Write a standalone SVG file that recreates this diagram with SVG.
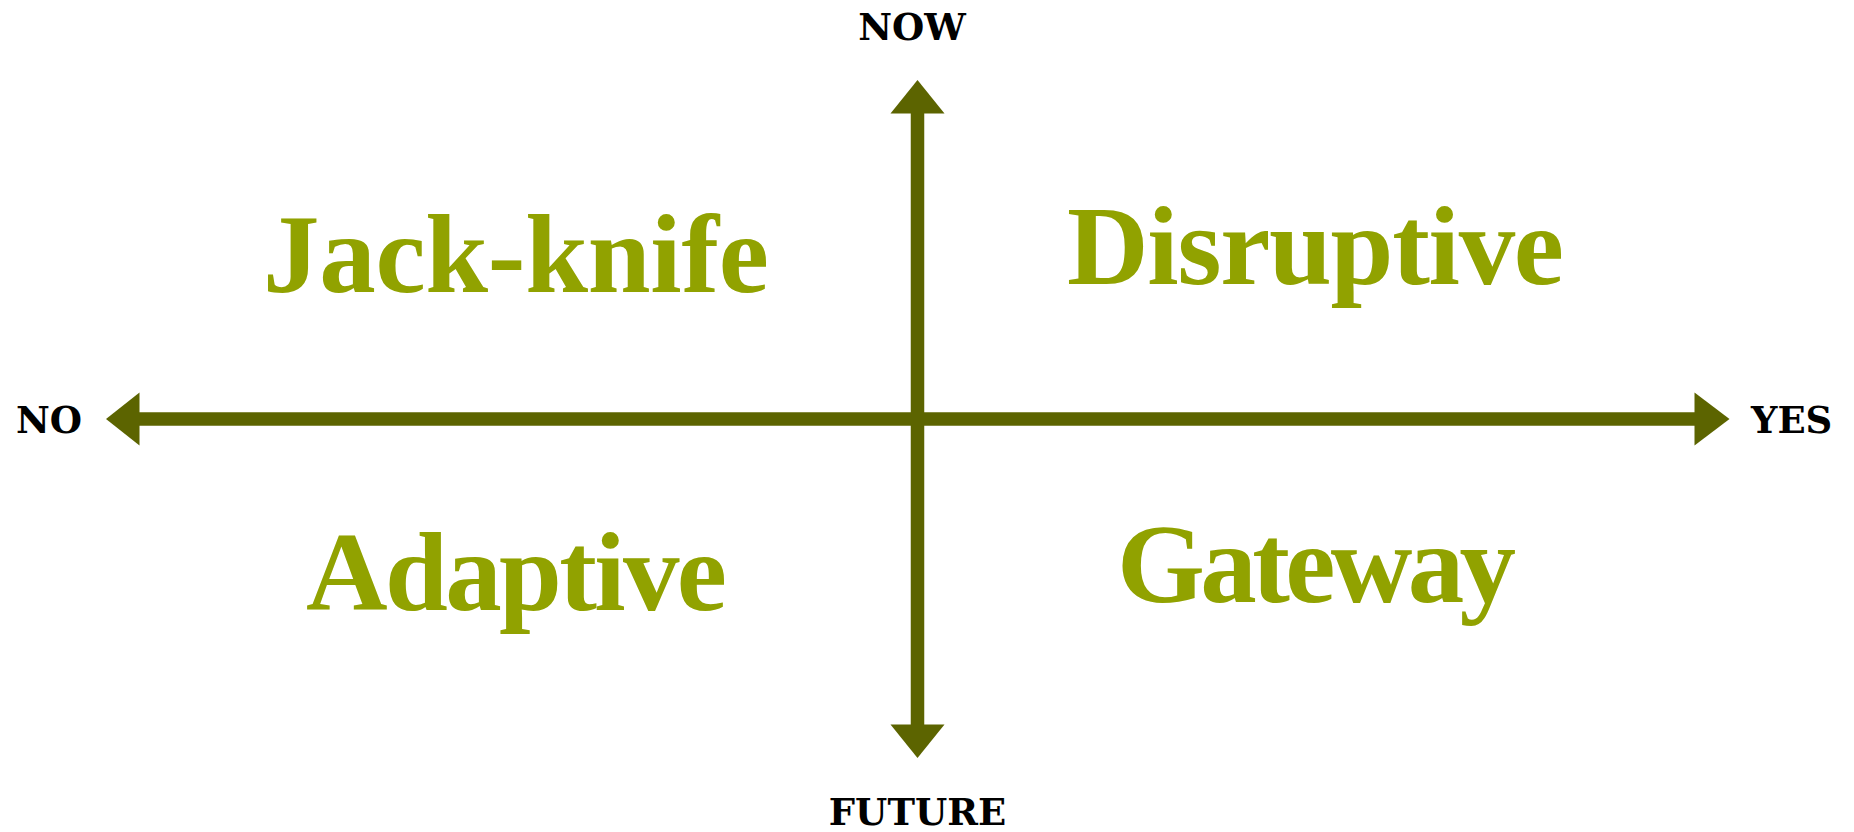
<svg xmlns="http://www.w3.org/2000/svg" width="1854" height="832" viewBox="0 0 1854 832">
<style>
.axis{stroke:#5c6400;stroke-width:13.5;fill:none}
.head{fill:#5c6400}
.lbl{font-family:"DejaVu Serif",serif;font-weight:bold;font-size:37px;fill:#000}
.quad{font-family:"Liberation Serif","Times New Roman",serif;font-weight:bold;font-size:113px;fill:#91a200}
</style>
<rect width="1854" height="832" fill="#fff"/>
<g id="connectors">
<line class="axis" x1="917.5" y1="112" x2="917.5" y2="726"/>
<line class="axis" x1="138" y1="419" x2="1696" y2="419"/>
<polygon class="head" points="917.5,80 944.5,113.5 890.5,113.5"/>
<polygon class="head" points="917.5,758 944.5,724.5 890.5,724.5"/>
<polygon class="head" points="106,419 139.5,392.5 139.5,445.5"/>
<polygon class="head" points="1729.5,419 1694.5,392.5 1694.5,445.5"/>
</g>
<g id="label-now"><text class="lbl" x="912" y="40" text-anchor="middle">NOW</text></g>
<g id="label-future"><text class="lbl" x="917.5" y="825" text-anchor="middle">FUTURE</text></g>
<g id="label-no"><text class="lbl" x="16" y="433">NO</text></g>
<g id="label-yes"><text class="lbl" x="1751" y="433">YES</text></g>
<g id="q-jackknife"><text class="quad" x="263" y="292" textLength="506" lengthAdjust="spacing">Jack-knife</text></g>
<g id="q-disruptive"><text class="quad" x="1067" y="284" textLength="497" lengthAdjust="spacing">Disruptive</text></g>
<g id="q-adaptive"><text class="quad" x="306" y="610" textLength="421" lengthAdjust="spacing">Adaptive</text></g>
<g id="q-gateway"><text class="quad" x="1117" y="602" textLength="399" lengthAdjust="spacing">Gateway</text></g>
</svg>
